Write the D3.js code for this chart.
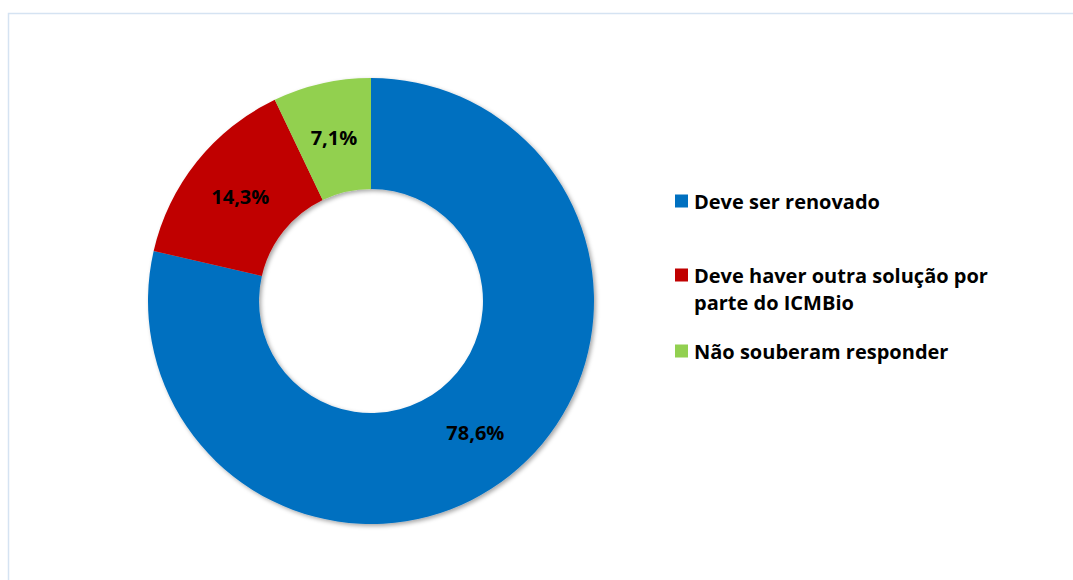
<!DOCTYPE html>
<html>
<head>
<meta charset="utf-8">
<script src="https://cdn.jsdelivr.net/npm/d3@7"></script>
<style>
  html, body { margin: 0; padding: 0; background: #fff; }
  svg { display: block; }
  text { font-family: "Open Sans", Lato, sans-serif; font-weight: bold; fill: #000; }
</style>
</head>
<body>
<svg id="chart" width="1073" height="580"></svg>
<script>
// Answer categories and their shares (%)
const categories = ["Deve ser renovado", "Deve haver outra solução por parte do ICMBio", "Não souberam responder"];
const legendLines = [["Deve ser renovado"], ["Deve haver outra solução por", "parte do ICMBio"], ["Não souberam responder"]];
const values = [78.6, 14.3, 7.1];
const valueLabels = ["78,6%", "14,3%", "7,1%"];
const colors = ["#0070c0", "#c00000", "#92d050"];

const svg = d3.select("#chart");

// chart frame
svg.append("rect")
  .attr("x", 8.5).attr("y", 13.5)
  .attr("width", 1080).attr("height", 600)
  .attr("fill", "none")
  .attr("stroke", "#d5e3f2")
  .attr("stroke-width", 1.5);

// soft shadow under the ring
const defs = svg.append("defs");
const f = defs.append("filter").attr("id", "shadow")
  .attr("x", "-10%").attr("y", "-10%").attr("width", "130%").attr("height", "130%");
f.append("feDropShadow").attr("dx", 2).attr("dy", 2).attr("stdDeviation", 2)
  .attr("flood-color", "#000").attr("flood-opacity", 0.35);

const cx = 371, cy = 301, outerR = 223, innerR = 112;

const pie = d3.pie().sort(null).value(d => d)(values);
const arc = d3.arc().innerRadius(innerR).outerRadius(outerR);

const g = svg.append("g").attr("transform", `translate(${cx},${cy})`);
g.append("g").attr("filter", "url(#shadow)")
  .selectAll("path").data(pie).join("path")
  .attr("d", arc)
  .attr("fill", (d, i) => colors[i]);

g.selectAll("text.val").data(pie).join("text")
  .attr("class", "val")
  .attr("transform", d => `translate(${arc.centroid(d)})`)
  .attr("text-anchor", "middle")
  .attr("dominant-baseline", "central")
  .attr("font-size", 20)
  .text((d, i) => valueLabels[i]);

// legend
const leg = svg.append("g");
const lineH = 27;
const rowY = [201, 275, 351];
categories.forEach((c, i) => {
  const y = rowY[i];
  leg.append("rect")
    .attr("x", 675).attr("y", y - 6.5)
    .attr("width", 13).attr("height", 13)
    .attr("fill", colors[i]);
  const t = leg.append("text")
    .attr("x", 694).attr("y", y)
    .attr("dominant-baseline", "central")
    .attr("font-size", 20);
  legendLines[i].forEach((ln, j) => {
    t.append("tspan").attr("x", 694).attr("dy", j === 0 ? 0 : lineH).text(ln);
  });
});
</script>
</body>
</html>
